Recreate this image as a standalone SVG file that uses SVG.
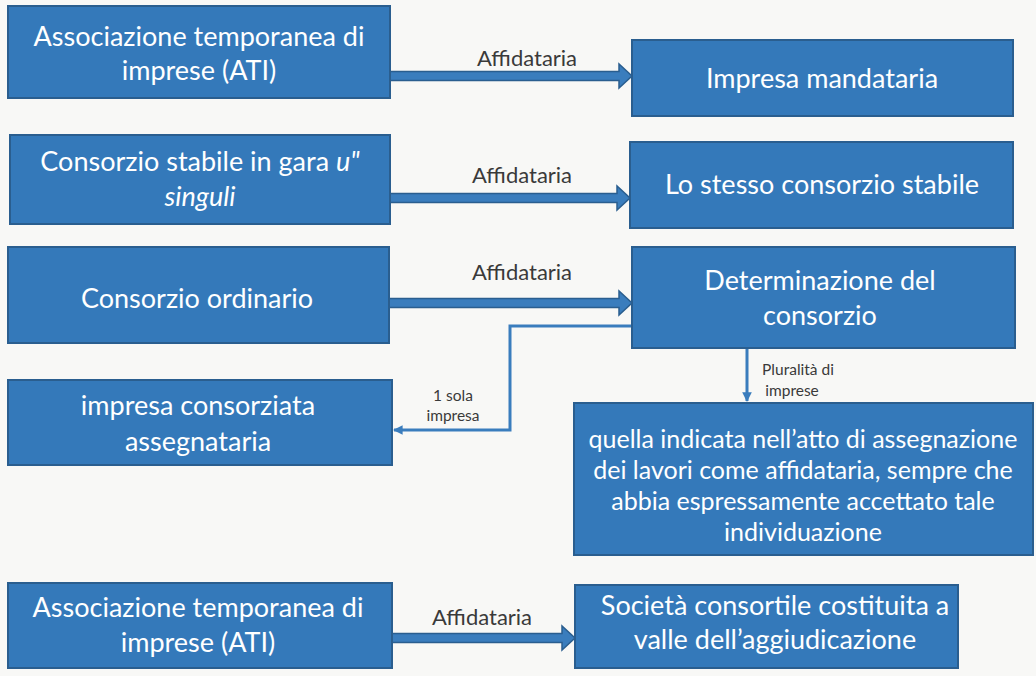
<svg xmlns="http://www.w3.org/2000/svg" width="1036" height="676" viewBox="0 0 1036 676">
<defs>
<style>
.box{fill:#3479ba;stroke:#2a5e8f;stroke-width:2}
.bt{font-family:Lato,"Open Sans",sans-serif;font-size:27px;fill:#ffffff;text-anchor:middle}
.bs{font-family:Lato,"Open Sans",sans-serif;font-size:25px;fill:#ffffff;text-anchor:middle}
.lb{font-family:Lato,"Open Sans",sans-serif;font-size:22px;fill:#3a3a3a;text-anchor:middle}
.sl{font-family:Lato,"Open Sans",sans-serif;font-size:15.5px;fill:#3a3a3a;text-anchor:middle}
.blk{fill:#3a7dbd;stroke:#2a5e8f;stroke-width:1.5}
.thin{fill:none;stroke:#3a7dbd;stroke-width:3}
</style>
<marker id="ah" viewBox="0 0 10 10" refX="9" refY="5" markerWidth="3.2" markerHeight="3.2" orient="auto" markerUnits="strokeWidth">
<path d="M0,0 L10,5 L0,10 Z" fill="#3a7dbd"/>
</marker>
</defs>
<rect width="1036" height="676" fill="#f8f8f6"/>
<g id="connectors">
<path class="blk" d="M390,71.5 H619 V64 L632,76 L619,88 V80.5 H390 Z"/>
<path class="blk" d="M390,193.5 H617 V186 L630,198 L617,210 V202.5 H390 Z"/>
<path class="blk" d="M389,298.5 H619 V291 L632,303 L619,315 V307.5 H389 Z"/>
<path class="blk" d="M392,633.5 H562 V626 L575,638 L562,650 V642.5 H392 Z"/>
<path class="thin" d="M632,326 H510 V430 H394" marker-end="url(#ah)"/>
<path class="thin" d="M747,348 V401" marker-end="url(#ah)"/>
<text class="lb" x="527" y="66">Affidataria</text>
<text class="lb" x="522" y="183">Affidataria</text>
<text class="lb" x="522" y="280">Affidataria</text>
<text class="lb" x="482" y="625">Affidataria</text>
<text class="sl" x="453" y="401">1 sola</text>
<text class="sl" x="453" y="421">impresa</text>
<text class="sl" x="798" y="375">Pluralità di</text>
<text class="sl" x="792" y="396">imprese</text>
</g>
<g id="n1"><rect class="box" x="8" y="6" width="382" height="92"/>
<text class="bt" x="199" y="46">Associazione temporanea di</text>
<text class="bt" x="199" y="80">imprese (ATI)</text></g>
<g id="n2"><rect class="box" x="632" y="40" width="381" height="76"/>
<text class="bt" x="822" y="88">Impresa mandataria</text></g>
<g id="n3"><rect class="box" x="10" y="135" width="380" height="89"/>
<text class="bt" x="200" y="171">Consorzio stabile in gara <tspan font-style="italic">u"</tspan></text>
<text class="bt" x="200" y="206" font-style="italic">singuli</text></g>
<g id="n4"><rect class="box" x="630" y="142" width="383" height="86"/>
<text class="bt" x="822" y="194">Lo stesso consorzio stabile</text></g>
<g id="n5"><rect class="box" x="8" y="247" width="381" height="96"/>
<text class="bt" x="197" y="308">Consorzio ordinario</text></g>
<g id="n6"><rect class="box" x="632" y="247" width="383" height="101"/>
<text class="bt" x="820" y="290">Determinazione del</text>
<text class="bt" x="820" y="325">consorzio</text></g>
<g id="n7"><rect class="box" x="8" y="380" width="384" height="85"/>
<text class="bt" x="198" y="415">impresa consorziata</text>
<text class="bt" x="198" y="451">assegnataria</text></g>
<g id="n8"><rect class="box" x="574" y="403" width="459" height="152"/>
<text class="bs" x="803" y="448">quella indicata nell’atto di assegnazione</text>
<text class="bs" x="803" y="479">dei lavori come affidataria, sempre che</text>
<text class="bs" x="803" y="510">abbia espressamente accettato tale</text>
<text class="bs" x="803" y="541">individuazione</text></g>
<g id="n9"><rect class="box" x="8" y="583" width="384" height="85"/>
<text class="bt" x="198" y="617">Associazione temporanea di</text>
<text class="bt" x="198" y="652">imprese (ATI)</text></g>
<g id="n10"><rect class="box" x="575" y="585" width="383" height="83"/>
<text class="bt" x="775" y="615">Società consortile costituita a</text>
<text class="bt" x="775" y="649">valle dell’aggiudicazione</text></g>
</svg>
